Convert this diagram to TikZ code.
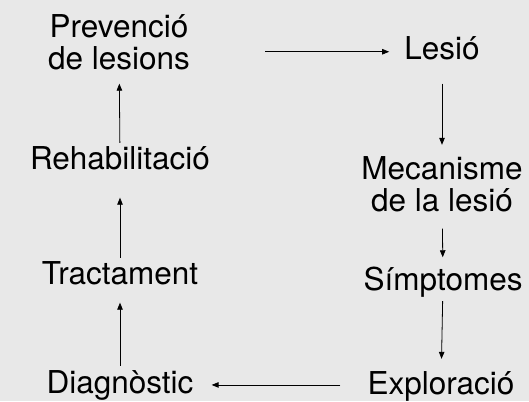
\documentclass[tikz,border=0pt]{standalone}
\usepackage{fontspec}
\setmainfont{TeX Gyre Heros}
\usetikzlibrary{arrows.meta,calc}

\begin{document}
\begin{tikzpicture}[x=1pt,y=1pt,
    stage/.style={font=\fontsize{31.5}{32}\selectfont, align=center, anchor=base, inner sep=3pt},
    arr/.style={-{Triangle[length=7pt,width=5.5pt]}, line width=0.8pt}]
    % background
    \fill[black!9] (0,0) rectangle (529,401);
    \useasboundingbox (0,0) rectangle (529,401);

    % left column
    \node[stage] (prev) at (119,331) {Prevenció\\de lesions};
    \node[stage] (rehab) at (120,231) {Rehabilitació};
    \node[stage] (tract) at (120,116) {Tractament};
    \node[stage] (diag) at (120,7.5) {Diagnòstic};

    % right column
    \node[stage] (lesio) at (442,341) {Lesió};
    \node[stage] (mec) at (442,189) {Mecanisme\\de la lesió};
    \node[stage] (simp) at (443,110) {Símptomes};
    \node[stage] (expl) at (441,7) {Exploració};

    % cycle
    \draw[arr] ($(prev.east |- lesio.west)+(72,-3)$) -- ($(lesio.west)+(-12,-3)$);
    \draw[arr, shorten <=20pt, shorten >=9pt] (lesio) -- (mec);
    \draw[arr, shorten <=13pt, shorten >=7pt] (mec) -- (simp);
    \draw[arr, shorten <=0pt, shorten >=9pt] (simp) -- (expl);
    \draw[arr] ($(expl.west)+(-24,1)$) -- ($(diag.east |- expl.west)+(15,1)$);
    \draw[arr, shorten <=1.5pt, shorten >=14pt] (diag) -- (tract);
    \draw[arr, shorten <=1pt, shorten >=24pt] (tract) -- (rehab);
    \draw[arr, shorten <=1pt, shorten >=10pt] (rehab) -- (prev);
\end{tikzpicture}
\end{document}
